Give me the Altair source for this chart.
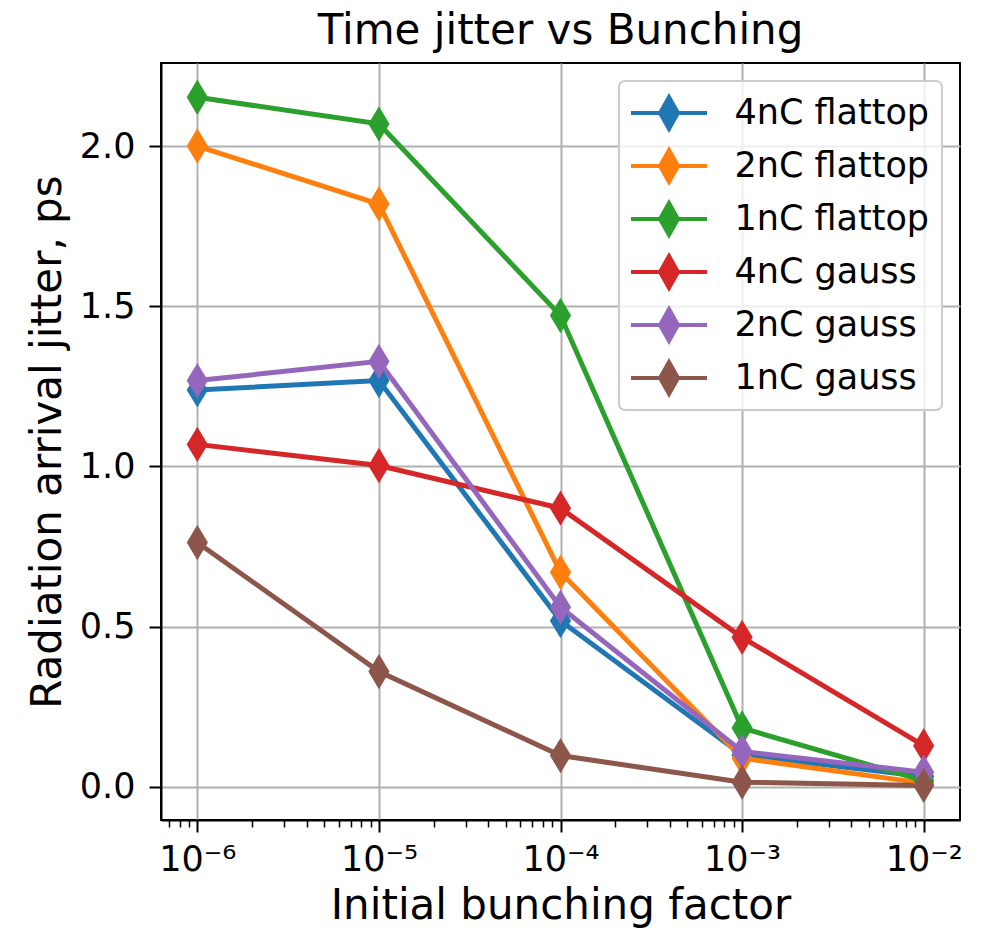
import altair as alt
import pandas as pd

# ---- data ----
bunching = [1e-6, 1e-5, 1e-4, 1e-3, 1e-2]
series_names = ["4nC flattop", "2nC flattop", "1nC flattop", "4nC gauss", "2nC gauss", "1nC gauss"]
flat_4nC = [1.239, 1.268, 0.519, 0.100, 0.033]
flat_2nC = [2.000, 1.819, 0.670, 0.090, 0.012]
flat_1nC = [2.152, 2.069, 1.471, 0.184, 0.020]
gauss_4nC = [1.069, 1.003, 0.870, 0.467, 0.129]
gauss_2nC = [1.268, 1.328, 0.561, 0.111, 0.046]
gauss_1nC = [0.763, 0.360, 0.098, 0.015, 0.005]
colors = ["#1f77b4", "#ff7f0e", "#2ca02c", "#d62728", "#9467bd", "#8c564b"]

x_major_ticks = [1e-6, 1e-5, 1e-4, 1e-3, 1e-2]
x_tick_labels = ["10⁻⁶", "10⁻⁵", "10⁻⁴", "10⁻³", "10⁻²"]
x_domain = [10 ** -6.2, 10 ** -1.8]
x_minor_ticks = [m * 10.0 ** e for e in range(-7, -2) for m in range(2, 10)]
x_minor_ticks = [v for v in x_minor_ticks if x_domain[0] <= v <= x_domain[1]]
y_ticks = [0.0, 0.5, 1.0, 1.5, 2.0]
y_domain = [-0.103, 2.259]

all_series = [flat_4nC, flat_2nC, flat_1nC, gauss_4nC, gauss_2nC, gauss_1nC]
rows = []
for k, (name, vals) in enumerate(zip(series_names, all_series)):
    for x, y in zip(bunching, vals):
        rows.append({"series": name, "order": k, "x": x, "y": y})
df = pd.DataFrame(rows)

FONT = "DejaVu Sans"
legend_path = "M-2.45,0L2.45,0M0,-1.03L0.58,0L0,1.03L-0.58,0Z"
point_path = "M0,-1L0.6,0L0,1L-0.6,0Z"

label_expr = "[" + ",".join("'%s'" % s for s in x_tick_labels) + "][round(log(datum.value)/LN10) + 6]"

x_scale = alt.Scale(type="log", domain=x_domain, nice=False)
y_scale = alt.Scale(domain=y_domain, nice=False, zero=False)

legend = alt.Legend(title=None, symbolType=legend_path, rowPadding=13, clipHeight=40)

base = alt.Chart(df)

lines = base.mark_line(strokeWidth=5).encode(
    x=alt.X("x:Q", scale=x_scale,
            axis=alt.Axis(values=x_major_ticks, labelExpr=label_expr, title="Initial bunching factor",
                          orient="bottom", grid=True, tickSize=12, labelPadding=10, titlePadding=8)),
    y=alt.Y("y:Q", scale=y_scale,
            axis=alt.Axis(values=y_ticks, format=".1f", title="Radiation arrival jitter, ps",
                          grid=True, tickSize=12, labelPadding=14, titlePadding=10)),
    stroke=alt.Stroke("series:N", scale=alt.Scale(domain=series_names, range=colors), legend=legend),
    detail="series:N",
    order="order:Q",
)

points = base.mark_point(filled=True, shape=point_path, size=1250, opacity=1).encode(
    x=alt.X("x:Q", scale=x_scale),
    y=alt.Y("y:Q", scale=y_scale),
    fill=alt.Fill("series:N", scale=alt.Scale(domain=series_names, range=colors), legend=legend),
)

main = alt.layer(lines, points)

minor = alt.Chart(pd.DataFrame({"x": x_minor_ticks})).mark_point(opacity=0).encode(
    x=alt.X("x:Q", scale=x_scale,
            axis=alt.Axis(values=x_minor_ticks, labels=False, title=None, grid=False, orient="bottom",
                          tickSize=7, tickWidth=1.5, domain=False)),
)

chart = alt.layer(main, minor).resolve_axis(x="independent").properties(
    width=799,
    height=757,
    autosize=alt.AutoSizeParams(type="none"),
    padding={"left": 161, "top": 63, "right": 27, "bottom": 116},
    title=alt.Title("Time jitter vs Bunching", fontSize=42, font=FONT, fontWeight="normal",
                    offset=10, color="black", frame="group"),
).configure_view(
    stroke="black", strokeWidth=2
).configure_axis(
    labelFont=FONT, titleFont=FONT, labelFontSize=35, titleFontSize=42,
    titleFontWeight="normal", labelColor="black", titleColor="black",
    domainColor="black", domainWidth=2, tickColor="black", tickWidth=2,
    gridColor="#b0b0b0", gridWidth=2, gridOpacity=1,
).configure_legend(
    orient="top-right", offset=18, padding=12,
    fillColor="rgba(255,255,255,0.8)", strokeColor="#cccccc", strokeWidth=2, cornerRadius=6,
    labelFont=FONT, labelFontSize=35, labelColor="black", labelOffset=48, labelLimit=400,
    symbolSize=961, symbolStrokeWidth=4, symbolOpacity=1, symbolOffset=20.5,
)

chart.save("out.html", embed_options={"renderer": "svg", "actions": False})
